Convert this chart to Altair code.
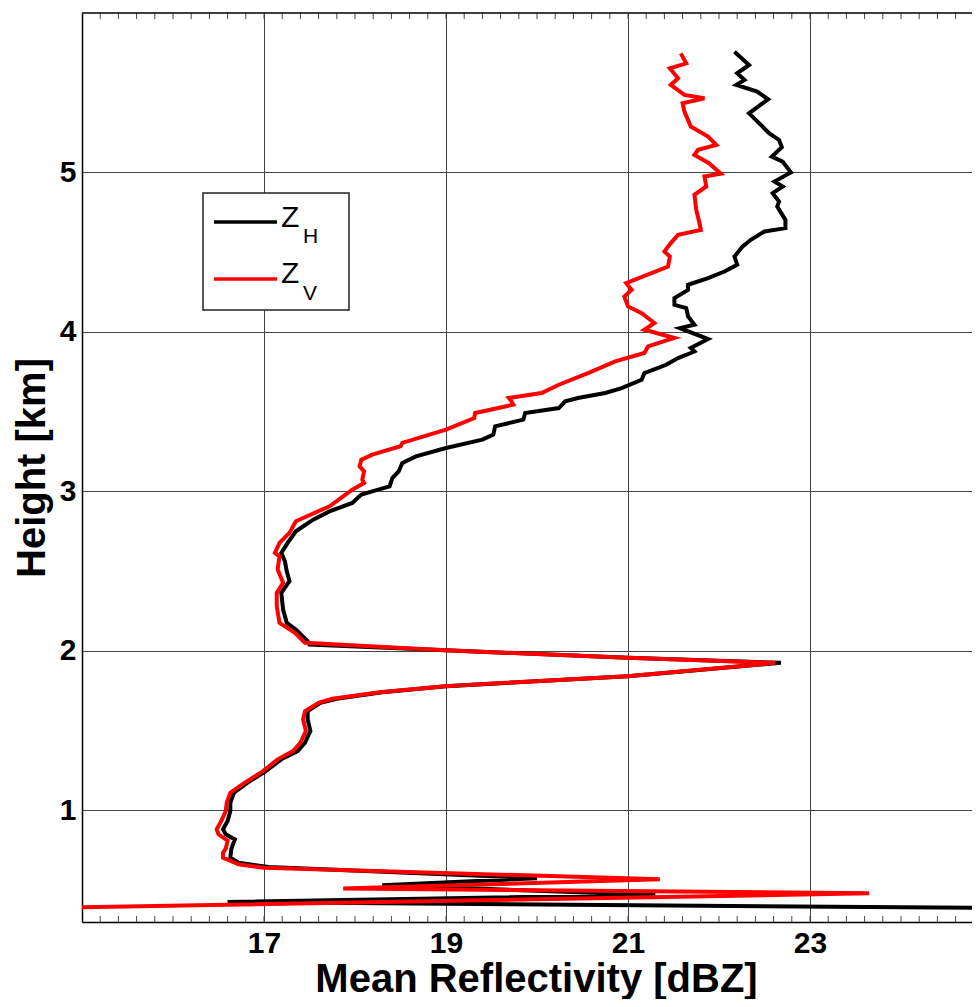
import altair as alt
import pandas as pd

# ---- data ----
zh_height = [0.385, 0.425, 0.47, 0.53, 0.575, 0.645, 0.672, 0.704, 0.756, 0.79, 0.818, 0.85, 0.881,
             0.933, 0.996, 1.048, 1.111, 1.174, 1.246, 1.32, 1.372, 1.424, 1.497, 1.57, 1.622, 1.675,
             1.70, 1.741, 1.779, 1.841, 1.925, 1.957, 2.004, 2.04, 2.061, 2.134, 2.176, 2.259, 2.364,
             2.437, 2.499, 2.562, 2.615, 2.677, 2.75, 2.823, 2.875, 2.928, 2.98, 3.0, 3.032, 3.084,
             3.125, 3.178, 3.22, 3.272, 3.325, 3.356, 3.408, 3.45, 3.492, 3.523, 3.565, 3.586, 3.617,
             3.648, 3.70, 3.742, 3.794, 3.836, 3.868, 3.878, 3.899, 3.955, 4.024, 4.045, 4.097, 4.149,
             4.17, 4.212, 4.264, 4.296, 4.337, 4.379, 4.421, 4.473, 4.536, 4.578, 4.63, 4.651, 4.703,
             4.787, 4.818, 4.87, 4.912, 4.943, 5.0, 5.068, 5.099, 5.158, 5.204, 5.246, 5.298, 5.371,
             5.459, 5.507, 5.549, 5.58, 5.622, 5.674, 5.757]
zh_value = [25.8, 16.6, 21.3, 18.3, 20.0, 17.05, 16.72, 16.63, 16.64, 16.66, 16.68, 16.58, 16.55,
            16.60, 16.63, 16.63, 16.67, 16.82, 17.02, 17.19, 17.37, 17.45, 17.51, 17.48, 17.48, 17.62,
            17.8, 18.3, 19.0, 21.0, 22.68, 21.0, 19.0, 17.50, 17.48, 17.35, 17.25, 17.21, 17.19,
            17.28, 17.25, 17.23, 17.19, 17.26, 17.35, 17.54, 17.72, 17.97, 18.07, 18.19, 18.38, 18.41,
            18.48, 18.52, 18.67, 19.0, 19.40, 19.52, 19.54, 19.85, 19.87, 20.24, 20.31, 20.45, 20.75,
            20.93, 21.15, 21.18, 21.42, 21.55, 21.69, 21.73, 21.69, 21.88, 21.57, 21.73, 21.66, 21.64,
            21.51, 21.51, 21.66, 21.66, 21.88, 22.06, 22.20, 22.17, 22.26, 22.35, 22.50, 22.73, 22.73,
            22.64, 22.66, 22.59, 22.70, 22.61, 22.79, 22.70, 22.58, 22.69, 22.66, 22.55, 22.46, 22.33,
            22.54, 22.42, 22.19, 22.28, 22.20, 22.33, 22.17]

zv_height = [0.39, 0.48, 0.51, 0.568, 0.64, 0.662, 0.704, 0.735, 0.76, 0.81, 0.85, 0.881, 0.933,
             0.996, 1.048, 1.111, 1.174, 1.246, 1.32, 1.372, 1.424, 1.497, 1.57, 1.622, 1.675, 1.70,
             1.741, 1.779, 1.841, 1.925, 1.957, 2.004, 2.051, 2.113, 2.176, 2.28, 2.364, 2.427, 2.51,
             2.593, 2.615, 2.677, 2.74, 2.813, 2.907, 3.011, 3.053, 3.074, 3.126, 3.157, 3.199, 3.231,
             3.283, 3.304, 3.387, 3.46, 3.492, 3.533, 3.544, 3.565, 3.586, 3.617, 3.669, 3.742, 3.815,
             3.868, 3.909, 3.962, 4.014, 4.056, 4.118, 4.16, 4.222, 4.264, 4.306, 4.41, 4.473, 4.504,
             4.557, 4.609, 4.64, 4.672, 4.766, 4.86, 4.912, 4.975, 4.992, 5.058, 5.11, 5.142, 5.173,
             5.225, 5.288, 5.382, 5.434, 5.465, 5.486, 5.549, 5.591, 5.653, 5.684, 5.747]
zv_value = [14.8, 23.65, 17.87, 21.35, 17.0, 16.72, 16.55, 16.55, 16.58, 16.60, 16.50, 16.48, 16.53,
            16.58, 16.59, 16.63, 16.79, 16.99, 17.15, 17.32, 17.40, 17.46, 17.43, 17.45, 17.60, 17.75,
            18.27, 18.99, 20.99, 22.62, 20.99, 18.99, 17.45, 17.34, 17.17, 17.14, 17.14, 17.21, 17.15,
            17.17, 17.12, 17.17, 17.28, 17.35, 17.72, 17.97, 18.10, 18.08, 18.10, 18.05, 18.07, 18.19,
            18.50, 18.52, 19.0, 19.31, 19.32, 19.65, 19.74, 19.72, 19.69, 20.05, 20.24, 20.56, 20.86,
            21.18, 21.22, 21.51, 21.18, 21.29, 21.15, 21.0, 20.96, 21.04, 20.98, 21.44, 21.46, 21.40,
            21.47, 21.55, 21.80, 21.79, 21.75, 21.73, 21.86, 21.84, 22.02, 21.89, 21.73, 21.77, 21.97,
            21.88, 21.69, 21.62, 21.60, 21.84, 21.62, 21.47, 21.55, 21.46, 21.64, 21.58]

series_names = ["ZH", "ZV"]
series_colors = ["black", "red"]
x_ticks = [17, 19, 21, 23]
y_ticks = [1, 2, 3, 4, 5]
x_minor = [round(15 + 0.2 * i, 1) for i in range(1, 49)]

W, H = 890, 909          # plot area; the reference's x axis (15..25) runs off the right edge
X_MIN, X_MAX = 15, 15 + W / 91.0
FONT = "Liberation Sans"

df = pd.concat([
    pd.DataFrame({"height": zh_height, "value": zh_value, "series": "ZH",
                  "idx": list(range(len(zh_height)))}),
    pd.DataFrame({"height": zv_height, "value": zv_value, "series": "ZV",
                  "idx": list(range(len(zv_height)))}),
])

xscale = alt.Scale(domain=[X_MIN, X_MAX], nice=False, zero=False)
yscale = alt.Scale(domain=[0.3, 6.0], nice=False, zero=False)

xaxis = alt.Axis(values=x_ticks, grid=True, gridColor="#444", gridWidth=1,
                 domain=True, domainColor="black", domainWidth=1.5,
                 ticks=False, tickSize=0, labelFont=FONT, labelFontSize=30, labelFontWeight="bold",
                 labelColor="black", labelPadding=6, title="Mean Reflectivity [dBZ]",
                 titleFont=FONT, titleFontSize=40, titleFontWeight="bold", titleColor="black",
                 titleX=454, titleY=69, titleBaseline="alphabetic", titleAlign="center",
                 labelFlush=False)
yaxis = alt.Axis(values=y_ticks, grid=True, gridColor="#444", gridWidth=1,
                 domain=True, domainColor="black", domainWidth=1.5,
                 ticks=False, tickSize=0, labelFont=FONT, labelFontSize=30, labelFontWeight="bold",
                 labelColor="black", labelPadding=6, title="Height [km]",
                 titleFont=FONT, titleFontSize=40, titleFontWeight="bold", titleColor="black",
                 titlePadding=7, labelFlush=False)

base = alt.Chart(df)
cscale = alt.Scale(domain=series_names, range=series_colors)


def series_line(name):
    return base.transform_filter(alt.datum.series == name).mark_line(
        strokeWidth=4, clip=True).encode(
        x=alt.X("value:Q", scale=xscale, axis=xaxis),
        y=alt.Y("height:Q", scale=yscale, axis=yaxis),
        color=alt.Color("series:N", scale=cscale, legend=None),
        order="idx:Q",
    )


line_zh = series_line("ZH")
line_zv = series_line("ZV")

ticks_df = pd.DataFrame({"value": x_minor})
bottom_ticks = alt.Chart(ticks_df).mark_rule(color="#444", strokeWidth=1).encode(
    x=alt.X("value:Q", scale=xscale, axis=xaxis), y=alt.value(H), y2=alt.value(H - 6))
top_ticks = alt.Chart(ticks_df).mark_rule(color="#444", strokeWidth=1).encode(
    x=alt.X("value:Q", scale=xscale, axis=xaxis), y=alt.value(0), y2=alt.value(6))

one = pd.DataFrame({"a": [0]})
top_border = alt.Chart(one).mark_rule(color="black", strokeWidth=1.5).encode(
    x=alt.value(0), x2=alt.value(W), y=alt.value(0))
leg_box = alt.Chart(one).mark_rect(fill="white", stroke="#222", strokeWidth=1.5).encode(
    x=alt.value(121), x2=alt.value(267), y=alt.value(180), y2=alt.value(297))
leg_h = alt.Chart(one).mark_rule(color="black", strokeWidth=3.5).encode(
    x=alt.value(132), x2=alt.value(195), y=alt.value(209))
leg_v = alt.Chart(one).mark_rule(color="red", strokeWidth=3.5).encode(
    x=alt.value(132), x2=alt.value(195), y=alt.value(266))


def label(txt, size, x, y):
    return alt.Chart(one).mark_text(text=txt, font=FONT, fontSize=size, align="left",
                                    baseline="alphabetic", color="black").encode(
        x=alt.value(x), y=alt.value(y))


txt_z1 = label("Z", 30, 199, 214)
txt_h = label("H", 21, 221, 230)
txt_z2 = label("Z", 30, 199, 270)
txt_v = label("V", 21, 221, 287)

chart = alt.layer(
    line_zh, line_zv, bottom_ticks, top_ticks, top_border,
    leg_box, leg_h, leg_v, txt_z1, txt_h, txt_z2, txt_v,
).properties(
    width=W, height=H,
    autosize=alt.AutoSizeParams(type="none"),
    padding={"left": 74, "top": 5, "right": 0, "bottom": 77},
    background="white",
).configure_view(stroke=None)

chart.save("out.html", embed_options={"renderer": "svg", "actions": False})
